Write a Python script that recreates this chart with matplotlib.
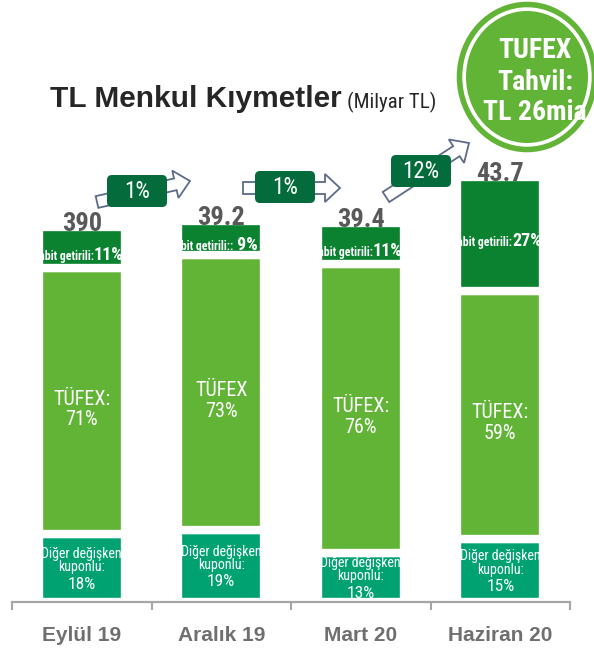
import numpy as np
import matplotlib.pyplot as plt
from matplotlib.patches import FancyArrow, FancyBboxPatch, Ellipse

# TL securities portfolio, billions of TL, split by bond type
months = ['Eylül 19', 'Aralık 19', 'Mart 20', 'Haziran 20']
totals = np.array([39.0, 39.2, 39.4, 43.7])
total_labels = ['390', '39.2', '39.4', '43.7']
pct_fixed = np.array([11, 9, 11, 27])
pct_tufex = np.array([71, 73, 76, 59])
pct_other = np.array([18, 19, 13, 15])
fixed_prefix = ['Sabit getirili:', 'Sabit getirili::', 'Sabit getirili:', 'Sabit getirili:']
fixed_text = ['11%', ' 9%', '11%', '27%']
tufex_names = ['TÜFEX:', 'TÜFEX', 'TÜFEX:', 'TÜFEX:']
growth = ['1%', '1%', '12%']

NARROW = ['Roboto Condensed', 'DejaVu Sans']
WIDE = ['Liberation Sans', 'DejaVu Sans']

DARK = '#0A8230'
LIGHT = '#62B437'
TEAL = '#00A271'
BOX = '#046B3C'
ARROW_EDGE = '#5B6B88'

other = totals * pct_other / 100
tufex = totals * pct_tufex / 100
fixed = totals * pct_fixed / 100

fig = plt.figure(figsize=(5.94, 6.53), dpi=100)
ax = fig.add_axes([12 / 594, 51 / 653, 558 / 594, 462 / 653])

x = np.arange(len(months))
w = 0.62
# white edges leave the gaps between the stacked pieces
ax.bar(x, other, w, color=TEAL, edgecolor='white', linewidth=6)
ax.bar(x, tufex, w, bottom=other, color=LIGHT, edgecolor='white', linewidth=6)
ax.bar(x, fixed, w, bottom=other + tufex, color=DARK, edgecolor='white', linewidth=6)

ax.set_xlim(-0.5, 3.5)
ax.set_ylim(0, 48)
for s in ['top', 'left', 'right']:
    ax.spines[s].set_visible(False)
ax.spines['bottom'].set_color('#A6A6A6')
ax.spines['bottom'].set_linewidth(1.6)
ax.spines['bottom'].set_zorder(3)
ax.set_yticks([])
ax.set_xticks(x)
ax.set_xticklabels(months, fontsize=15, fontweight='bold', color='#6F6F6F', family=WIDE)
ax.set_xticks(np.arange(-0.5, 4, 1), minor=True)
ax.tick_params(axis='x', which='major', length=0, pad=17)
ax.tick_params(axis='x', which='minor', length=6, width=1.5, color='#A6A6A6')

for i in range(len(months)):
    top = other[i] + tufex[i] + fixed[i]
    ax.annotate(total_labels[i], (i, top), xytext=(0, -3), textcoords='offset points',
                ha='center', va='baseline', fontsize=19, fontweight='bold',
                color='#595959', family=NARROW)

    # fixed-rate piece: small caption + bigger share
    yc = other[i] + tufex[i] + fixed[i] / 2
    ax.annotate(fixed_prefix[i], (i + 0.085, yc), xytext=(0, -9), textcoords='offset points',
                ha='right', va='baseline', fontsize=8.5, fontweight='bold',
                color='white', family=NARROW)
    ax.annotate(fixed_text[i], (i + 0.085, yc), xytext=(0, -9), textcoords='offset points',
                ha='left', va='baseline', fontsize=13, fontweight='bold',
                color='white', family=NARROW)

    yc = other[i] + tufex[i] / 2
    ax.annotate(f'{tufex_names[i]}\n{pct_tufex[i]}%', (i, yc), xytext=(0, -6),
                textcoords='offset points', ha='center', va='center', fontsize=14.5,
                color='white', family=NARROW, linespacing=1.1)

    yc = other[i] / 2
    ax.annotate('Diğer değişken\nkuponlu:', (i, yc), xytext=(0, 5.5), textcoords='offset points',
                ha='center', va='center', fontsize=10, color='white', family=NARROW,
                linespacing=0.95)
    ax.annotate(f'{pct_other[i]}%', (i, yc), xytext=(0, -6), textcoords='offset points',
                ha='center', va='top', fontsize=12.5, color='white', family=NARROW)

# overlay in pixel units for title, growth arrows and the badge
ov = fig.add_axes([0, 0, 1, 1], zorder=5)
ov.set_xlim(0, 594)
ov.set_ylim(653, 0)
ov.axis('off')

ov.text(50, 107, 'TL Menkul Kıymetler', fontsize=21.5, fontweight='bold',
        color='#262626', family=WIDE, va='baseline')
ov.text(347, 108, '(Milyar TL)', fontsize=15, color='#262626', family=NARROW, va='baseline')

arrows = [((97, 202), (190, 181)), ((243, 188), (340, 188)), ((386, 197), (469, 143))]
boxes = [(137, 191), (285, 187), (421, 171)]
for (p0, p1), (bx, by), g in zip(arrows, boxes, growth):
    ov.add_patch(FancyArrow(p0[0], p0[1], p1[0] - p0[0], p1[1] - p0[1], width=12,
                            head_width=28, head_length=15, length_includes_head=True,
                            fc='white', ec=ARROW_EDGE, lw=1.3))
    bw, bh, r = 60, 32, 5
    ov.add_patch(FancyBboxPatch((bx - bw / 2 + r, by - bh / 2 + r), bw - 2 * r, bh - 2 * r,
                                boxstyle=f'round,pad={r}', fc=BOX, ec='none'))
    ov.text(bx, by + 1, g, fontsize=16.5, color='white', family=NARROW, ha='center', va='center')

ov.add_patch(Ellipse((527, 77), 135, 145, fill=False, ec=LIGHT, lw=4))
ov.add_patch(Ellipse((527, 77), 122, 132, fc=LIGHT, ec='none'))
for ty, t in zip([51, 82, 113], ['TUFEX', 'Tahvil:', 'TL 26mia']):
    ov.text(535, ty, t, fontsize=20, fontweight='bold', color='white',
            family=NARROW, ha='center', va='center')

fig.savefig('out.png', dpi=100)
